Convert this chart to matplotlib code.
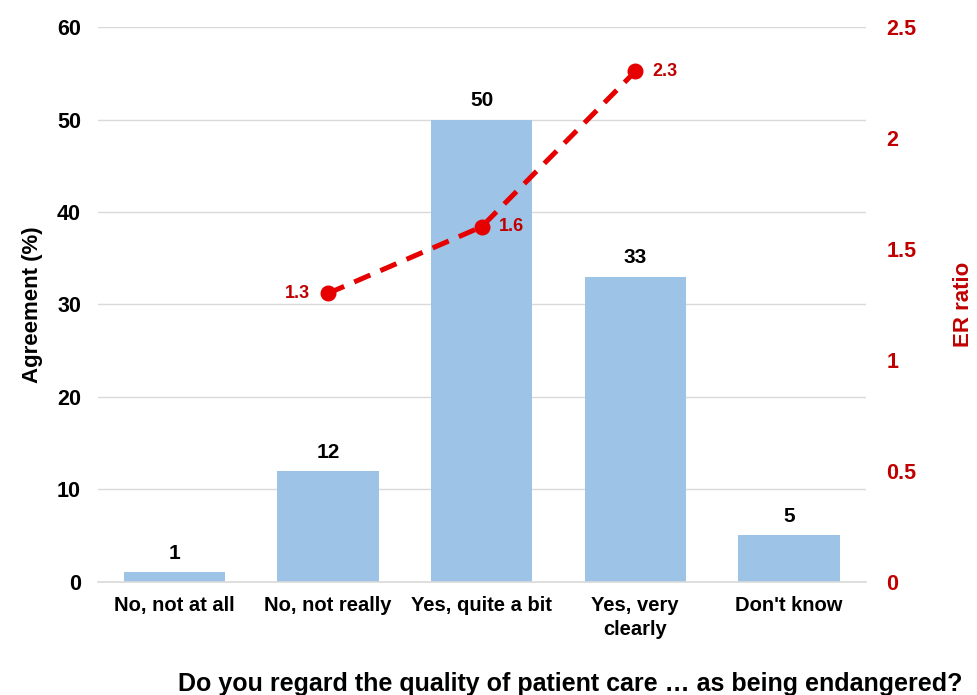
import matplotlib.pyplot as plt

plt.rcParams['font.family'] = ['Liberation Sans', 'DejaVu Sans']
plt.rcParams['font.weight'] = 'bold'

categories = ['No, not at all', 'No, not really', 'Yes, quite a bit', 'Yes, very\nclearly', "Don't know"]
agreement = [1, 12, 50, 33, 5]
er_idx = [1, 2, 3]
er_ratio = [1.3, 1.6, 2.3]
er_labels = ['1.3', '1.6', '2.3']

bar_color = '#9dc3e6'
line_color = '#e60000'
dark_red = '#c00000'

fig = plt.figure(figsize=(9.77, 6.95), dpi=100)
ax = fig.add_axes([0.100, 0.163, 0.786, 0.798])
x = list(range(len(categories)))
ax.bar(x, agreement, width=0.66, color=bar_color, zorder=2)
for xi, v in zip(x, agreement):
    ax.text(xi, v + 1.0, str(v), ha='center', va='bottom', fontsize=15, fontweight='bold')

ax.set_xlim(-0.5, 4.5)
ax.set_ylim(0, 60)
ax.set_yticks(range(0, 61, 10))
ax.grid(axis='y', color='#d9d9d9', linewidth=1, zorder=0)
ax.axhline(0, color='#d9d9d9', linewidth=1.2, zorder=3, clip_on=False)
for s in ax.spines.values():
    s.set_visible(False)
ax.tick_params(axis='both', length=0)
ax.tick_params(axis='y', labelsize=15.5, pad=12)
ax.tick_params(axis='x', labelsize=14.5, pad=10)
ax.set_xticks(x)
ax.set_xticklabels(categories, fontweight='bold', linespacing=1.35)
ax.set_ylabel('Agreement (%)', fontsize=16, fontweight='bold', labelpad=10)

fig.text(570 / 977, 1 - 684 / 695,
         'Do you regard the quality of patient care \u2026 as being endangered?',
         ha='center', va='center', fontsize=18, fontweight='bold')

ax2 = ax.twinx()
ax2.plot(er_idx, er_ratio, color=line_color, linestyle=(0, (3.5, 2.2)), linewidth=3.6,
         marker='o', markersize=10.5, zorder=3)
ax2.set_ylim(0, 2.5)
ax2.set_yticks([0, 0.5, 1, 1.5, 2, 2.5])
ax2.set_yticklabels(['0', '0.5', '1', '1.5', '2', '2.5'], color=dark_red)
ax2.tick_params(axis='y', length=0, labelsize=15.5, pad=15)
for s in ax2.spines.values():
    s.set_visible(False)
ax2.set_ylabel('ER ratio', fontsize=16, fontweight='bold', color=dark_red, labelpad=26)

offsets = [(-0.12, 'right'), (0.11, 'left'), (0.11, 'left')]
for xi, v, lab, (dx, ha) in zip(er_idx, er_ratio, er_labels, offsets):
    ax2.text(xi + dx, v, lab, ha=ha, va='center', fontsize=13, fontweight='bold', color=dark_red)

fig.savefig('out.png', dpi=100)
